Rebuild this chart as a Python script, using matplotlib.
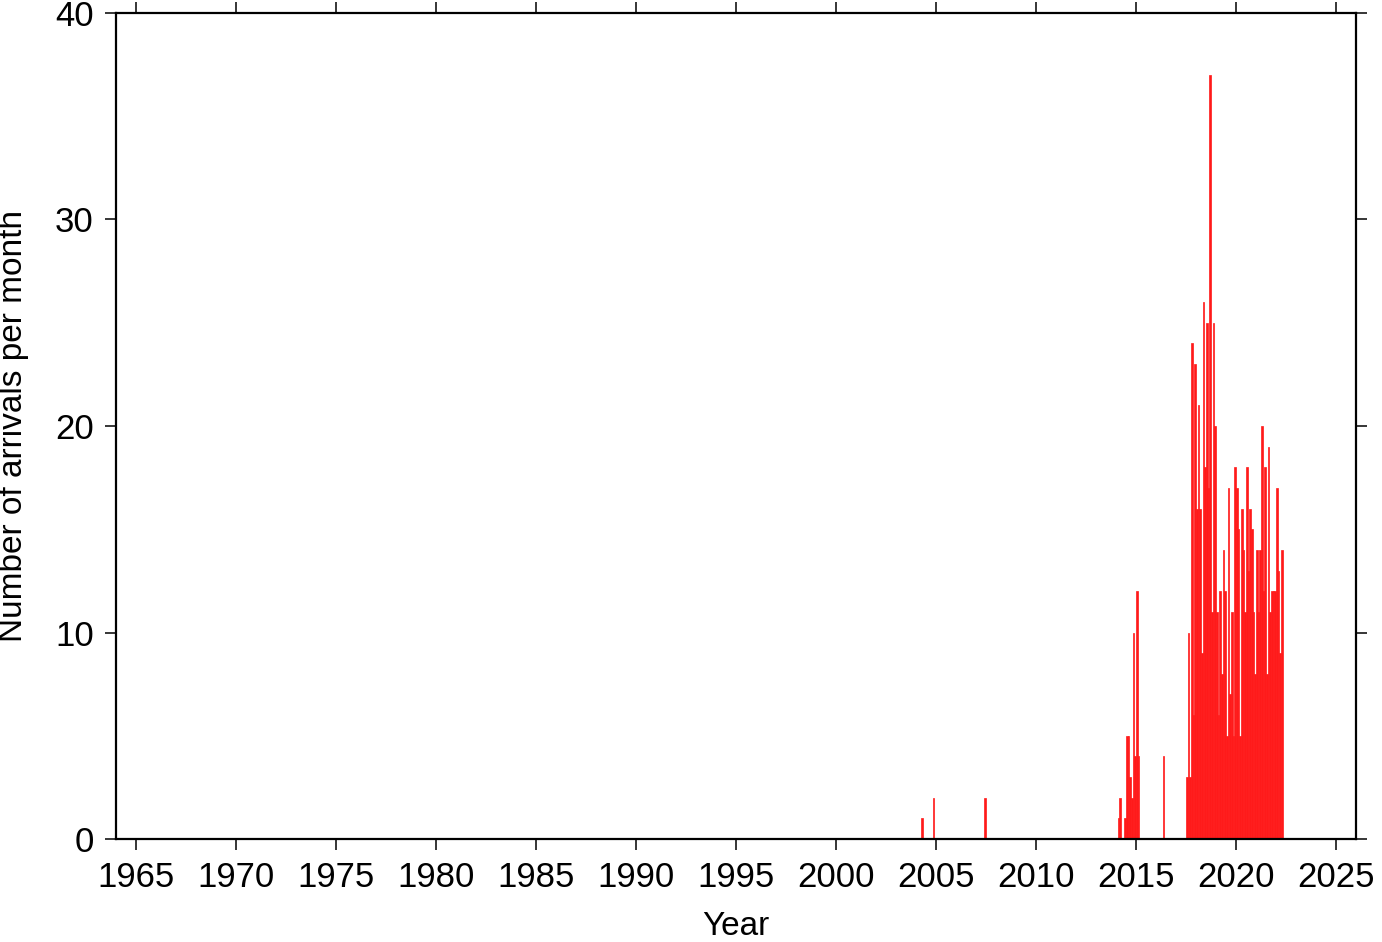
import numpy as np
import matplotlib
matplotlib.use('Agg')
import matplotlib.pyplot as plt

plt.rcParams['font.family'] = ['Liberation Sans', 'DejaVu Sans']

# monthly arrival counts (year-month, count)
months = ['2004-04', '2004-11', '2007-06',
          '2014-02', '2014-03', '2014-06', '2014-07', '2014-08', '2014-09',
          '2014-10', '2014-11', '2014-12', '2015-01', '2015-02',
          '2016-05',
          '2017-07', '2017-08', '2017-09', '2017-10', '2017-11', '2017-12',
          '2018-01', '2018-02', '2018-03', '2018-04', '2018-05', '2018-06',
          '2018-07', '2018-08', '2018-09', '2018-10', '2018-11', '2018-12',
          '2019-01', '2019-02', '2019-03', '2019-04', '2019-05', '2019-06',
          '2019-07', '2019-08', '2019-09', '2019-10', '2019-11', '2019-12',
          '2020-01', '2020-02', '2020-03', '2020-04', '2020-05', '2020-06',
          '2020-07', '2020-08', '2020-09', '2020-10', '2020-11', '2020-12',
          '2021-01', '2021-02', '2021-03', '2021-04', '2021-05', '2021-06',
          '2021-07', '2021-08', '2021-09', '2021-10', '2021-11', '2021-12',
          '2022-01', '2022-02', '2022-03', '2022-04']
counts = [1, 2, 2,
          1, 2, 1, 5, 5, 3,
          2, 10, 4, 12, 4,
          4,
          3, 10, 3, 24, 6, 23,
          16, 21, 16, 9, 26, 18,
          25, 17, 37, 11, 25, 20,
          11, 6, 12, 8, 14, 12,
          5, 17, 7, 11, 5, 18,
          17, 15, 5, 16, 14, 11,
          18, 13, 16, 15, 11, 8,
          14, 11, 14, 20, 12, 18,
          8, 19, 11, 12, 12, 12,
          17, 13, 9, 14]

year_ticks = np.arange(1965, 2026, 5)
count_ticks = [0, 10, 20, 30, 40]

# decimal year for start of each month
t = np.array([int(m[:4]) + (int(m[5:]) - 1) / 12 for m in months])

fig = plt.figure(figsize=(13.82, 9.42), dpi=100)
ax = fig.add_axes([116/1382, 1 - 839/942, 1240/1382, 826/942])

ax.bar(t, counts, width=1/12, align='edge', color='#ff1a1a',
       edgecolor='#ff1a1a', linewidth=0.5)

ax.set_xlim(1964, 2026)
ax.set_ylim(0, 40)
ax.set_xticks(year_ticks)
ax.set_yticks(count_ticks)

for s in ax.spines.values():
    s.set_linewidth(1.6)
ax.tick_params(direction='out', length=8, width=1.1, labelsize=25,
               top=True, right=True, labeltop=False, labelright=False)
ax.tick_params(axis='x', pad=8)
ax.tick_params(axis='y', pad=8)

ax.set_xlabel('Year', fontsize=24)
ax.set_ylabel('Number of arrivals per month', fontsize=24)
ax.xaxis.set_label_coords(0.5, -0.087)
ax.yaxis.set_label_coords(-0.070, 0.5)

fig.savefig('out.png', dpi=100)
